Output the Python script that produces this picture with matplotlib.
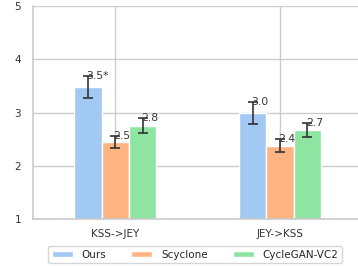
import matplotlib
matplotlib.use("Agg")
import matplotlib.pyplot as plt
import seaborn as sns
import numpy as np

sns.set_theme(style="whitegrid")

categories = ["KSS->JEY", "JEY->KSS"]
methods = ["Ours", "Scyclone", "CycleGAN-VC2"]
means = {
    "Ours": [3.48, 2.99],
    "Scyclone": [2.45, 2.38],
    "CycleGAN-VC2": [2.75, 2.67],
}
errors = {
    "Ours": [0.20, 0.21],
    "Scyclone": [0.11, 0.12],
    "CycleGAN-VC2": [0.14, 0.13],
}
labels = {
    "Ours": ["3.5*", "3.0"],
    "Scyclone": ["2.5", "2.4"],
    "CycleGAN-VC2": ["2.8", "2.7"],
}
colors = sns.color_palette("pastel")[:3]

fig = plt.figure(figsize=(3.58, 2.66), dpi=100)
ax = fig.add_axes([0.092, 0.177, 0.92, 0.80])

x = np.arange(len(categories))
w = 0.5 / 3
for i, m in enumerate(methods):
    pos = x + (i - 1) * w
    ax.bar(pos, means[m], width=w, color=colors[i], label=m)
    ax.errorbar(pos, means[m], yerr=errors[m], fmt="none", ecolor="#333333",
                capsize=3.3, elinewidth=1.2, capthick=1.2)
    for p, v, e, t in zip(pos, means[m], errors[m], labels[m]):
        ax.text(p - 0.01, v + e, t, ha="left", va="center", fontsize=7.8, color="#3a3a3a")

ax.set_xlim(-0.5, 1.5)
ax.set_ylim(1, 5)
ax.set_yticks([1, 2, 3, 4, 5])
ax.set_xticks(x)
ax.set_xticklabels(categories)
ax.tick_params(axis="both", labelsize=7.5, colors="#333333", length=0)
ax.tick_params(axis="y", pad=8.5)
ax.tick_params(axis="x", pad=7)
for s in ["top", "right"]:
    ax.spines[s].set_visible(False)
for s in ["left", "bottom"]:
    ax.spines[s].set_color("#cccccc")

fig.legend(loc="lower center", bbox_to_anchor=(0.545, -0.01), ncol=3, fontsize=7.5,
           frameon=True, handlelength=2.0, handleheight=0.5, handletextpad=0.85,
           columnspacing=2.4, borderpad=0.35)

fig.savefig("out.png", dpi=100)
